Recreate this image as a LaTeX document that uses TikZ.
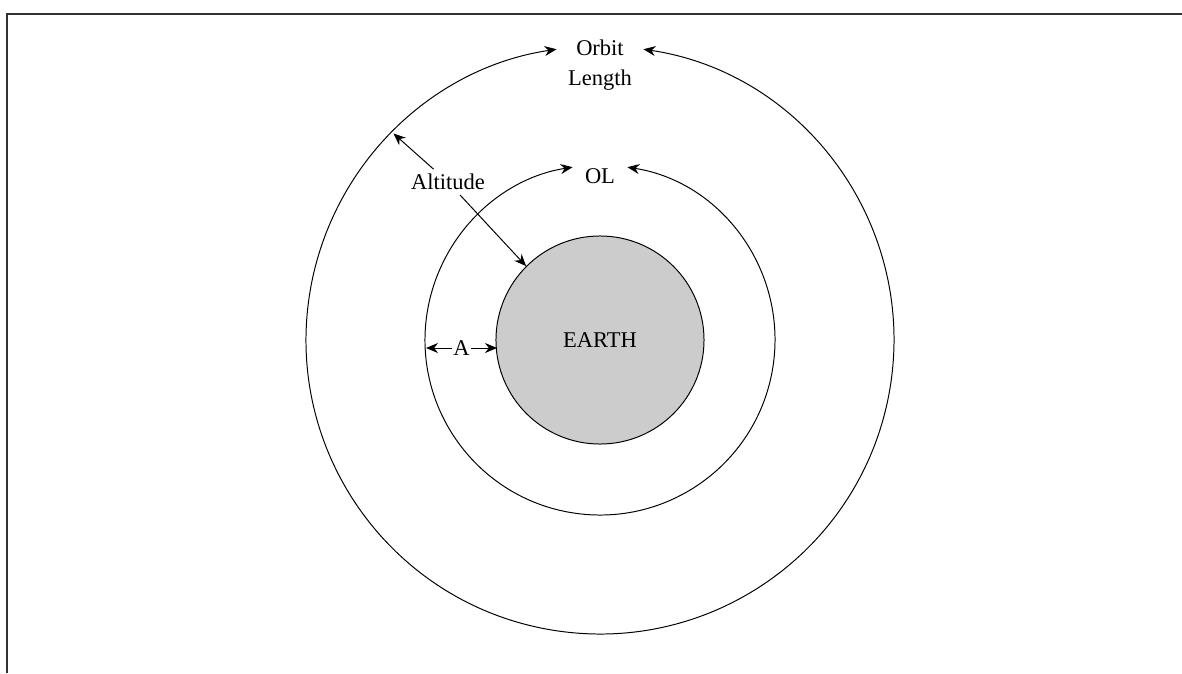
\documentclass[tikz,border=0pt]{standalone}
\usepackage{fontspec}
\setmainfont{Liberation Serif}
\usetikzlibrary{arrows.meta}
\definecolor{earthgrey}{RGB}{204,204,204}
\definecolor{framegrey}{RGB}{50,50,50}

\begin{document}
\begin{tikzpicture}[
    x=0.025cm, y=0.025cm,   % one unit = one pixel of the original
    font=\fontsize{16}{21}\selectfont,
    % styles
    orbit/.style={draw, line width=0.7pt},
    earthdisc/.style={circle, draw, line width=0.7pt, fill=earthgrey,
        minimum size=5.2cm, inner sep=0pt},
    dimarrow/.style={line width=0.7pt, -{Stealth[length=0.3cm,width=0.25cm]}},
    dimboth/.style={line width=0.7pt,
        {Stealth[length=0.3cm,width=0.25cm]}-{Stealth[length=0.3cm,width=0.25cm]}},
    frameline/.style={draw=framegrey, line width=1.4pt}
]
\useasboundingbox (-600,-333) rectangle (582,340);
% Cadre
\draw[frameline] (-593,-333) -- (-593,326) -- (582,326);

% Terre et orbites
\node[earthdisc] (earth) at (0,0) {EARTH};
\draw[orbit, dimboth] (0,0) ++(81:175) arc[start angle=81, end angle=-261, radius=175];
\draw[orbit, dimboth] (0,0) ++(81.5:294) arc[start angle=81.5, end angle=-261.5, radius=294];

% Textes
\node[align=center] (orbitlen) at (0,275) {Orbit\\Length};
\node (ol) at (0,164) {OL};
\node (alt) at (-152,158) {Altitude};

% Altitude
\coordinate (outer135) at (135:292);
\draw[dimarrow] (alt) -- (outer135);
\draw[dimarrow] (alt) -- (earth.135);

% A
\coordinate (aleft) at (-174,-8);
\coordinate (aright) at (-103,-8);
\draw[dimboth] (aleft) -- node[fill=white, inner sep=1pt] (alabel) {A} (aright);
\end{tikzpicture}
\end{document}
